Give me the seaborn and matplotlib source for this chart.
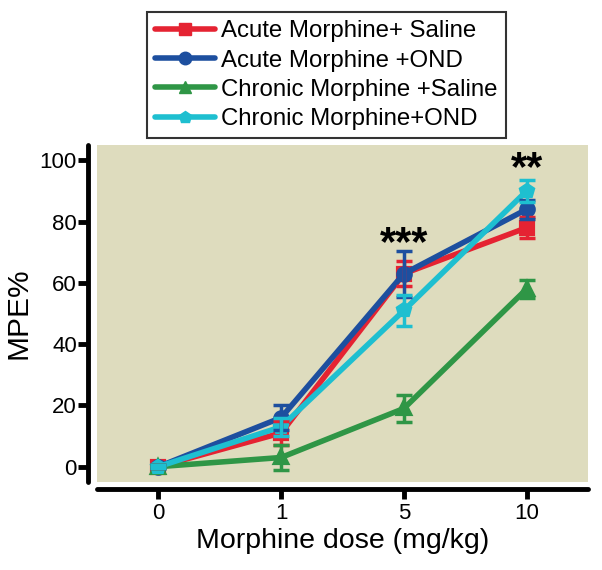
import matplotlib
matplotlib.use("Agg")
import matplotlib.pyplot as plt
import seaborn as sns
import pandas as pd
import numpy as np
from matplotlib.lines import Line2D

doses = ["0", "1", "5", "10"]
groups = ["Acute Morphine+ Saline", "Acute Morphine +OND",
          "Chronic Morphine +Saline", "Chronic Morphine+OND"]
acute_saline = [0, 11, 63, 78]
acute_ond = [0, 16, 63, 84]
chronic_saline = [0, 3, 19, 58]
chronic_ond = [0, 13, 51, 90]
err_acute_saline = [0.5, 4, 4, 3.5]
err_acute_ond = [0.5, 4, 7.5, 3]
err_chronic_saline = [0.5, 4, 4.5, 3]
err_chronic_ond = [0.5, 3, 5, 3.5]

colors = ["#e52332", "#1d4f9f", "#2f9646", "#1ebfd0"]
markers = ["s", "o", "^", "p"]

means = [acute_saline, acute_ond, chronic_saline, chronic_ond]
errs = [err_acute_saline, err_acute_ond, err_chronic_saline, err_chronic_ond]

rows = []
for g, m in zip(groups, means):
    for d, v in zip(doses, m):
        rows.append({"dose": d, "mpe": v, "group": g})
df = pd.DataFrame(rows)

sns.set_style("white")
plt.rcParams["font.family"] = ["Liberation Sans", "DejaVu Sans"]
plt.rcParams["text.color"] = "black"
plt.rcParams["axes.labelcolor"] = "black"
plt.rcParams["xtick.color"] = "black"
plt.rcParams["ytick.color"] = "black"

fig = plt.figure(figsize=(6.02, 5.70), dpi=100)
ax = fig.add_axes([97/602, 1-482/570, (588-97)/602, (482-145)/570])
ax.set_facecolor("#dedcbe")

sns.pointplot(data=df, x="dose", y="mpe", hue="group", order=doses,
              hue_order=groups, palette=colors, markers=markers,
              linestyles="-", errorbar=None, ax=ax, legend=False,
              linewidth=4.0, markersize=9)

for i, (m, e, c) in enumerate(zip(means, errs, colors)):
    ax.errorbar(np.arange(len(doses)), m, yerr=e, fmt="none", ecolor=c,
                elinewidth=2.5, capsize=6, capthick=2.5, zorder=5)

ax.set_xlim(-0.5, 3.5)
ax.set_ylim(-5, 105)
ax.set_yticks([0, 20, 40, 60, 80, 100])
ax.set_xlabel("Morphine dose (mg/kg)", fontsize=20.5, labelpad=3, color="black")
ax.set_ylabel("MPE%", fontsize=21.5, labelpad=5, color="black")
ax.tick_params(axis="both", labelsize=16, length=7, width=3.5,
               direction="out", colors="black", bottom=True, left=True)
ax.tick_params(axis="y", pad=1)
ax.tick_params(axis="x", pad=3)

for s in ["top", "right"]:
    ax.spines[s].set_visible(False)
ax.spines["left"].set_position(("outward", 6.5))
ax.spines["bottom"].set_position(("outward", 5))
for s in ["left", "bottom"]:
    ax.spines[s].set_linewidth(3.5)
    ax.spines[s].set_color("black")
    ax.spines[s].set_capstyle("round")

ax.text(2, 66, "***", ha="center", va="bottom", fontsize=30,
        fontweight="bold", color="black")
ax.text(3, 90.5, "**", ha="center", va="bottom", fontsize=30,
        fontweight="bold", color="black")

handles = [Line2D([0], [0], color=c, marker=mk, linewidth=4.0, markersize=9)
           for c, mk in zip(colors, markers)]
leg = fig.legend(handles, groups, loc="upper left",
                 bbox_to_anchor=(147/602, 1-12/570), fontsize=17.3,
                 frameon=True, fancybox=False, edgecolor="black",
                 handlelength=2.5, handletextpad=0.25, labelspacing=0.3,
                 borderpad=0.35, borderaxespad=0, labelcolor="black")
leg.get_frame().set_linewidth(1.5)

fig.savefig("out.png", dpi=100)
